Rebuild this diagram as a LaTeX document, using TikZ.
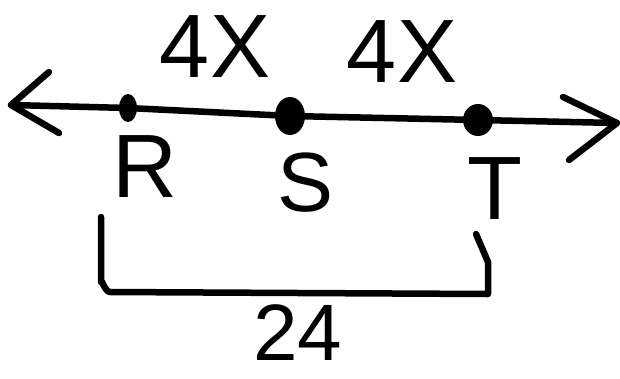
\documentclass[tikz,border=0pt]{standalone}
\usepackage{fontspec}
\setmainfont{Liberation Sans}
\usetikzlibrary{shapes.geometric}
\begin{document}
\begin{tikzpicture}[x=1pt,y=-1pt, line width=6.5pt, line cap=round, line join=round,
  lbl/.style={font=\fontsize{90}{90}\selectfont, inner sep=0pt},
  dotnode/.style={ellipse, fill=black, inner sep=0pt}]
\useasboundingbox (0,0) rectangle (620,378);
% line with points
\coordinate (L) at (11,105);
\coordinate (Rt) at (617,123);
\node[dotnode, minimum width=18pt, minimum height=28pt] (R) at (128,108) {};
\node[dotnode, minimum width=30pt, minimum height=38pt] (S) at (290,116) {};
\node[dotnode, minimum width=30pt, minimum height=32pt] (T) at (478,120) {};
\draw (L) -- (R.center) -- (S.center) -- (T.center) -- (Rt);
% arrowheads
\coordinate (La) at (49,72);
\coordinate (Lb) at (59,133);
\coordinate (Ra) at (563,97);
\coordinate (Rb) at (569,160);
\draw (La) -- (L) -- (Lb);
\draw (Ra) -- (Rt) -- (Rb);
% labels
\node[lbl] (x1) at (215,47) {4X};
\node[lbl] (x2) at (402,52) {4X};
\node[lbl] (lR) at (145,167) {R};
\node[lbl, font=\fontsize{84}{84}\selectfont] (lS) at (306,183) {S};
\node[lbl] (lT) at (495,189) {T};
% bracket
\coordinate (b1) at (101,217);
\coordinate (b3) at (488,294);
\coordinate (b4) at (488,262);
\coordinate (b5) at (476,234);
\draw (b1) -- (101,282) to[out=90,in=180] (110,292) -- (b3) -- (b4) -- (b5);
\node[lbl, font=\fontsize{80}{80}\selectfont] (n24) at (298,333) {24};
\end{tikzpicture}
\end{document}
